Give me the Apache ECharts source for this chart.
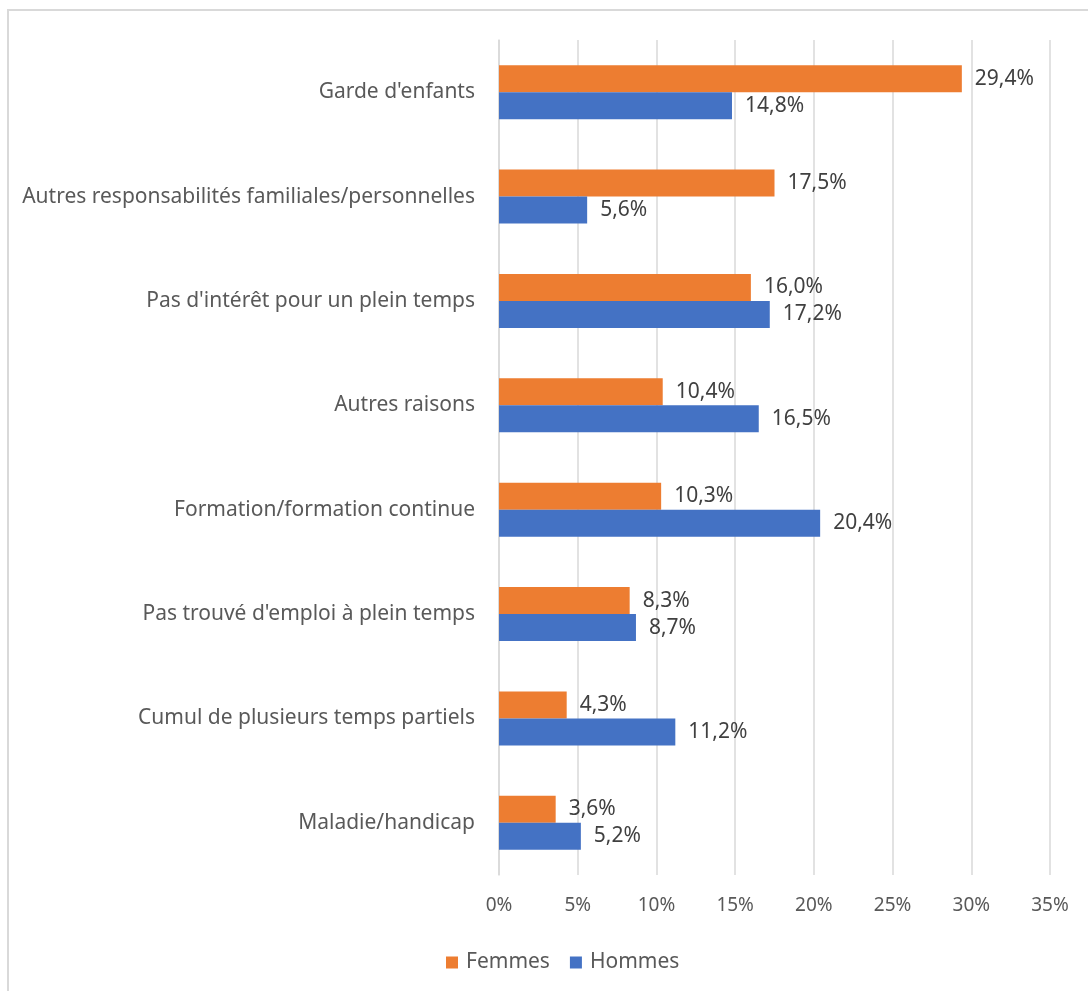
<!DOCTYPE html>
<html>
<head>
<meta charset="utf-8">
<script src="https://cdn.jsdelivr.net/npm/echarts@6/dist/echarts.min.js"></script>
<style>
  html, body { margin: 0; padding: 0; background: #fff; }
  #chart { width: 1088px; height: 991px; }
</style>
</head>
<body>
<div id="chart"></div>
<script>
const categories = [
  "Garde d'enfants",
  'Autres responsabilités familiales/personnelles',
  "Pas d'intérêt pour un plein temps",
  'Autres raisons',
  'Formation/formation continue',
  "Pas trouvé d'emploi à plein temps",
  'Cumul de plusieurs temps partiels',
  'Maladie/handicap'
];
const femmes = [29.4, 17.5, 16.0, 10.4, 10.3, 8.3, 4.3, 3.6];
const hommes = [14.8, 5.6, 17.2, 16.5, 20.4, 8.7, 11.2, 5.2];
const xTicks = [0, 5, 10, 15, 20, 25, 30, 35];

const FONT = '"Noto Sans", sans-serif';

function pct(v) {
  return v.toFixed(1).replace('.', ',') + '%';
}

const chart = echarts.init(document.getElementById('chart'));

const barLabel = {
  show: true,
  position: 'right',
  distance: 13,
  color: '#404040',
  fontSize: 21,
  fontFamily: FONT,
  formatter: (p) => pct(p.value)
};

chart.setOption({
  backgroundColor: '#fff',
  animation: false,
  graphic: [
    {
      type: 'rect',
      shape: { x: 8, y: 10, width: 1100, height: 1000 },
      style: { fill: 'none', stroke: '#d9d9d9', lineWidth: 2 },
      silent: true
    }
  ],
  grid: {
    left: 499,
    right: 38,
    top: 40,
    bottom: 116
  },
  legend: {
    bottom: 18,
    left: 446,
    padding: 0,
    itemWidth: 12,
    itemHeight: 12,
    itemGap: 20,
    icon: 'rect',
    textStyle: { color: '#595959', fontSize: 21, fontFamily: FONT, padding: [0, 0, 0, 3] },
    data: ['Femmes', 'Hommes']
  },
  xAxis: {
    type: 'value',
    min: xTicks[0],
    max: xTicks[xTicks.length - 1],
    interval: 5,
    axisLine: { show: false },
    axisTick: { show: false },
    splitLine: { lineStyle: { color: '#d9d9d9', width: 1.5 } },
    axisLabel: {
      color: '#595959',
      fontSize: 19,
      fontFamily: FONT,
      margin: 21,
      formatter: (v) => v + '%'
    }
  },
  yAxis: {
    type: 'category',
    inverse: true,
    data: categories,
    axisLine: { show: true, lineStyle: { color: '#d9d9d9', width: 1.5 } },
    axisTick: { show: false },
    axisLabel: {
      color: '#595959',
      fontSize: 21,
      fontFamily: FONT,
      margin: 24
    }
  },
  series: [
    {
      name: 'Femmes',
      type: 'bar',
      data: femmes,
      barWidth: 27,
      barGap: '0%',
      itemStyle: { color: '#ED7D31' },
      label: barLabel
    },
    {
      name: 'Hommes',
      type: 'bar',
      data: hommes,
      barWidth: 27,
      barGap: '0%',
      itemStyle: { color: '#4472C4' },
      label: barLabel
    }
  ]
});
</script>
</body>
</html>
